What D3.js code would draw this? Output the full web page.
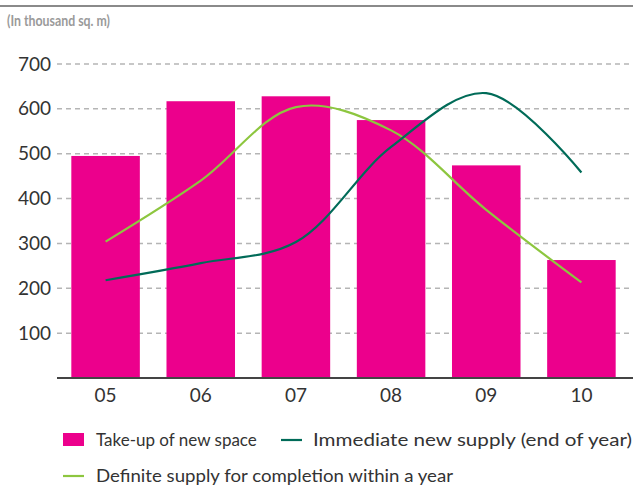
<!DOCTYPE html>
<html>
<head>
<meta charset="utf-8">
<script src="https://cdn.jsdelivr.net/npm/d3@7"></script>
<style>
  html, body { margin: 0; padding: 0; background: #fff; }
  svg { display: block; font-family: Lato, "Open Sans", sans-serif; }
</style>
</head>
<body>
<svg id="chart" width="633" height="488"></svg>
<script>
// Office space market, in thousand sq. m
const years = ["05", "06", "07", "08", "09", "10"];
const takeUp = [495, 617, 628, 575, 474, 263];
const immediateSupply = [218, 256, 303, 515, 635, 458];
const definiteSupply = [304, 440, 604, 552, 375, 213];
const yTicks = [100, 200, 300, 400, 500, 600, 700];
const legendLabels = [
  "Take-up of new space",
  "Immediate new supply (end of year)",
  "Definite supply for completion within a year"
];

const colors = { takeUp: "#EC008C", immediate: "#006B58", definite: "#8DC63F" };

const svg = d3.select("#chart");
const x = d3.scaleBand().domain(years).range([58, 629]).paddingInner(0.28).paddingOuter(0.14);
const y = d3.scaleLinear().domain([0, 700]).range([378, 64]);

// top rule
svg.append("line").attr("x1", 0).attr("x2", 633).attr("y1", 6).attr("y2", 6)
  .attr("stroke", "#8a8a8a").attr("stroke-width", 2);

// unit note
svg.append("text").attr("x", 7).attr("y", 26)
  .attr("font-size", 15).attr("font-weight", 700).attr("fill", "#9a9a9a")
  .attr("textLength", 103).attr("lengthAdjust", "spacingAndGlyphs")
  .text("(In thousand sq. m)");

// gridlines + y labels
const yAxis = d3.axisLeft(y).tickValues(yTicks).tickSize(0).tickPadding(6);
const gy = svg.append("g").attr("transform", "translate(57,0)").call(yAxis);
gy.select(".domain").remove();
gy.selectAll("text").attr("font-size", 19).attr("fill", "#333").attr("font-family", "Lato, sans-serif");

svg.append("g").selectAll("line").data(yTicks).join("line")
  .attr("x1", 57).attr("x2", 633)
  .attr("y1", d => y(d)).attr("y2", d => y(d))
  .attr("stroke", "#b5b5b5").attr("stroke-width", 1.5).attr("stroke-dasharray", "5,4");

// bars
svg.append("g").selectAll("rect").data(years).join("rect")
  .attr("x", d => x(d)).attr("width", x.bandwidth())
  .attr("y", (d, i) => y(takeUp[i]))
  .attr("height", (d, i) => y(0) - y(takeUp[i]))
  .attr("fill", colors.takeUp);

// lines
const line = d3.line()
  .x((d, i) => x(years[i]) + x.bandwidth() / 2)
  .y(d => y(d))
  .curve(d3.curveCatmullRom.alpha(0.5));

svg.append("path").datum(definiteSupply).attr("d", line)
  .attr("fill", "none").attr("stroke", colors.definite).attr("stroke-width", 2.2);
svg.append("path").datum(immediateSupply).attr("d", line)
  .attr("fill", "none").attr("stroke", colors.immediate).attr("stroke-width", 2.2);

// x axis
const xAxis = d3.axisBottom(x).tickSize(0).tickPadding(11);
const gx = svg.append("g").attr("transform", "translate(0,378)").call(xAxis);
gx.select(".domain").remove();
gx.selectAll("text").attr("font-size", 19).attr("fill", "#333").attr("font-family", "Lato, sans-serif");
svg.append("line").attr("x1", 57).attr("x2", 633).attr("y1", 378).attr("y2", 378)
  .attr("stroke", "#444").attr("stroke-width", 2);

// legend
const lg = svg.append("g").attr("fill", "#333");
lg.append("rect").attr("x", 63).attr("y", 433).attr("width", 21).attr("height", 13).attr("fill", colors.takeUp);
lg.append("text").attr("x", 96).attr("y", 446).attr("font-size", 17).text(legendLabels[0]);
lg.append("line").attr("x1", 281).attr("x2", 302).attr("y1", 440).attr("y2", 440)
  .attr("stroke", colors.immediate).attr("stroke-width", 2.2);
lg.append("text").attr("x", 313).attr("y", 446).attr("font-size", 18)
  .attr("textLength", 319).attr("lengthAdjust", "spacingAndGlyphs").text(legendLabels[1]);
lg.append("line").attr("x1", 63).attr("x2", 84).attr("y1", 476).attr("y2", 476)
  .attr("stroke", colors.definite).attr("stroke-width", 2.2);
lg.append("text").attr("x", 96).attr("y", 482).attr("font-size", 18)
  .attr("textLength", 357).attr("lengthAdjust", "spacingAndGlyphs").text(legendLabels[2]);
</script>
</body>
</html>
